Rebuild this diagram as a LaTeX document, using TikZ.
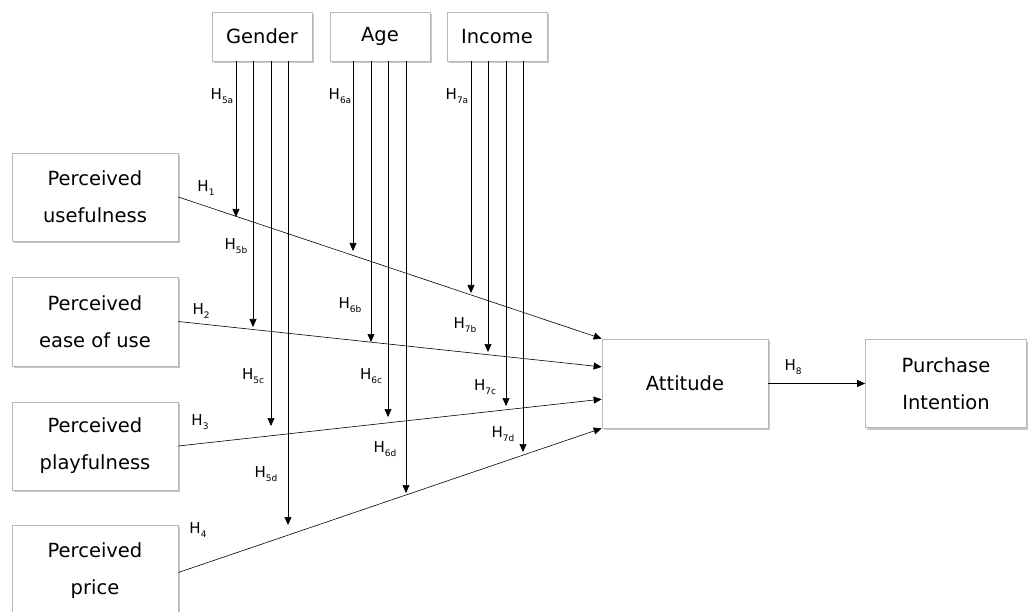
\documentclass[tikz,border=0pt]{standalone}
\usepackage{fontspec}
\setmainfont{DejaVu Sans}
\usetikzlibrary{arrows.meta,shadows,calc}
\newcommand\hyp[1]{H\raisebox{-0.4ex}{\fontsize{9}{9}\selectfont #1}}
\begin{document}
\begin{tikzpicture}[x=1pt,y=-1pt,
  box/.style={draw=black!28,line width=0.7pt,fill=white,
    drop shadow={shadow xshift=1.5pt,shadow yshift=-2pt,opacity=0.4,fill=black!55},
    align=center,font=\fontsize{19.5}{37}\selectfont,inner sep=0pt},
  lbl/.style={font=\fontsize{15}{15}\selectfont,inner sep=0pt},
  arr/.style={line width=0.6pt,-{Triangle[length=8pt,width=7pt]}},
  vline/.style={line width=0.6pt,-{Triangle[length=8pt,width=7pt]}}]
\useasboundingbox (0,0) rectangle (1028,612);
\fill[white] (0,0) rectangle (1028,612);
% boxes
\node[box,minimum width=100pt,minimum height=49pt] (gender) at (262,36.5) {Gender};
\node[box,minimum width=100pt,minimum height=49pt] (age) at (380,36.5) {Age};
\node[box,minimum width=100pt,minimum height=49pt] (income) at (497,36.5) {Income};
\node[box,minimum width=166pt,minimum height=88pt] (pu) at (95,197) {Perceived\\usefulness};
\node[box,minimum width=166pt,minimum height=89pt] (pe) at (95,321.5) {Perceived\\ease of use};
\node[box,minimum width=166pt,minimum height=88pt] (pp) at (95,446) {Perceived\\playfulness};
\node[box,minimum width=166pt,minimum height=92pt] (pr) at (95,571) {Perceived\\price};
\node[box,minimum width=166pt,minimum height=89pt] (att) at (685,383.5) {Attitude};
\node[box,minimum width=161pt,minimum height=88pt] (pi) at (946,383.5) {Purchase\\Intention};
% attitude entry points
\coordinate (a1) at ($(att.north west)!0!(att.south west)$);
\coordinate (a2) at ($(att.north west)!0.315!(att.south west)$);
\coordinate (a3) at ($(att.north west)!0.675!(att.south west)$);
\coordinate (a4) at ($(att.north west)!1!(att.south west)$);
\draw[arr] (pu.east) -- (a1);
\draw[arr] (pe.east) -- (a2);
\draw[arr] (pp.east) -- (a3);
\draw[arr] ([yshift=-1.5pt]pr.east) -- (a4);
\draw[arr] (att.east) -- (pi.west);
% moderator arrow tips
\coordinate (t5a) at (236,217);
\coordinate (t5b) at (253,327);
\coordinate (t5c) at (271,426);
\coordinate (t5d) at (288,525);
\coordinate (t6a) at (353,251);
\coordinate (t6b) at (371,342);
\coordinate (t6c) at (388,417);
\coordinate (t6d) at (406,493);
\coordinate (t7a) at (471,293);
\coordinate (t7b) at (488,352);
\coordinate (t7c) at (506,406);
\coordinate (t7d) at (523,452);
\foreach \t in {t5a,t5b,t5c,t5d}{\draw[vline] (\t |- gender.south) -- (\t);}
\foreach \t in {t6a,t6b,t6c,t6d}{\draw[vline] (\t |- age.south) -- (\t);}
\foreach \t in {t7a,t7b,t7c,t7d}{\draw[vline] (\t |- income.south) -- (\t);}
% labels
\node[lbl] (l1) at (206,188) {\hyp{1}};
\node[lbl] (l2) at (201,311) {\hyp{2}};
\node[lbl] (l3) at (200,422) {\hyp{3}};
\node[lbl] (l4) at (198,530) {\hyp{4}};
\node[lbl] (l8) at (793,367) {\hyp{8}};
\node[lbl] (l5a) at (222,96) {\hyp{5a}};
\node[lbl] (l5b) at (236,246) {\hyp{5b}};
\node[lbl] (l5c) at (253,376) {\hyp{5c}};
\node[lbl] (l5d) at (266,474) {\hyp{5d}};
\node[lbl] (l6a) at (340,96) {\hyp{6a}};
\node[lbl] (l6b) at (350,305) {\hyp{6b}};
\node[lbl] (l6c) at (371,376) {\hyp{6c}};
\node[lbl] (l6d) at (385,449) {\hyp{6d}};
\node[lbl] (l7a) at (457,96) {\hyp{7a}};
\node[lbl] (l7b) at (465,325) {\hyp{7b}};
\node[lbl] (l7c) at (485,387) {\hyp{7c}};
\node[lbl] (l7d) at (503,434) {\hyp{7d}};
\end{tikzpicture}
\end{document}
